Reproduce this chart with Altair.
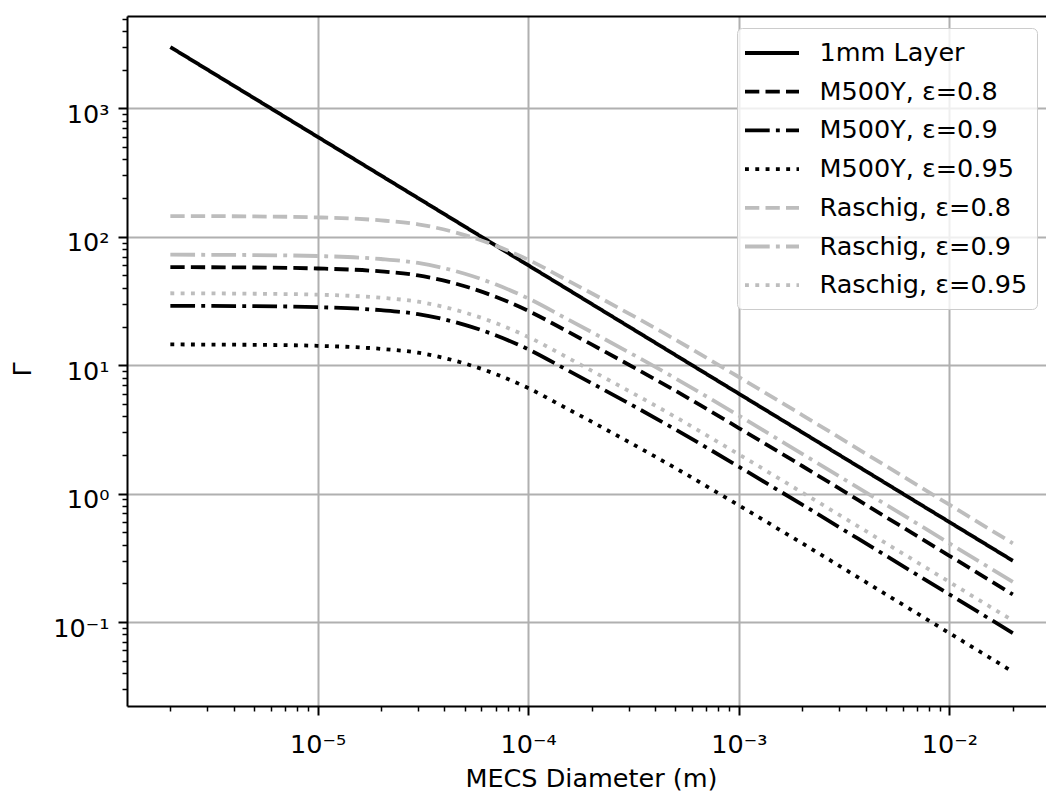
import altair as alt
import pandas as pd

# ---------------- data ----------------
diameter_m = [2e-6, 5e-6, 1e-5, 2e-5, 3e-5, 5e-5, 7e-5, 1e-4, 1.5e-4, 2e-4,
              5e-4, 1e-3, 2e-3, 5e-3, 1e-2, 2e-2]

layer_1mm    = [3000, 1200, 600, 300, 200, 120, 85.7, 60, 40, 30, 12, 6, 3, 1.2, 0.6, 0.3]
m500y_e080   = [58.0, 57.6, 56.6, 53.7, 50.0, 41.2, 34.1, 26.5, 18.7, 14.5, 6.32, 3.24, 1.64, 0.656, 0.328, 0.164]
m500y_e090   = [29.0, 28.8, 28.3, 26.8, 25.0, 20.6, 17.1, 13.3, 9.34, 7.25, 3.16, 1.62, 0.82, 0.328, 0.164, 0.082]
m500y_e095   = [14.5, 14.4, 14.15, 13.4, 12.5, 10.3, 8.53, 6.63, 4.67, 3.63, 1.58, 0.81, 0.41, 0.164, 0.082, 0.041]
raschig_e080 = [145, 144, 141.5, 134.1, 125, 103, 85.3, 66.3, 46.7, 36.3, 15.8, 8.09, 4.09, 1.64, 0.819, 0.41]
raschig_e090 = [72.5, 72.0, 70.8, 67.1, 62.5, 51.5, 42.6, 33.1, 23.3, 18.1, 7.9, 4.05, 2.04, 0.82, 0.41, 0.205]
raschig_e095 = [36.3, 36.0, 35.4, 33.5, 31.2, 25.7, 21.3, 16.6, 11.7, 9.06, 3.95, 2.02, 1.02, 0.41, 0.205, 0.1025]

series_names = ["1mm Layer", "M500Y, ε=0.8", "M500Y, ε=0.9", "M500Y, ε=0.95",
                "Raschig, ε=0.8", "Raschig, ε=0.9", "Raschig, ε=0.95"]
series_values = [layer_1mm, m500y_e080, m500y_e090, m500y_e095,
                 raschig_e080, raschig_e090, raschig_e095]
series_colors = ["#000000", "#000000", "#000000", "#000000",
                 "#bdbdbd", "#bdbdbd", "#bdbdbd"]
dash_solid = [1, 0]
dash_dashed = [14.3, 6.2]
dash_dashdot = [24.7, 6.2, 3.9, 6.2]
dash_dotted = [3.9, 6.4]
series_dashes = [dash_solid, dash_dashed, dash_dashdot, dash_dotted,
                 dash_dashed, dash_dashdot, dash_dotted]

x_major = [1e-5, 1e-4, 1e-3, 1e-2]
x_tick_labels = ["10⁻⁵", "10⁻⁴", "10⁻³", "10⁻²"]
y_major = [0.1, 1, 10, 100, 1000]
y_tick_labels = ["10⁻¹", "10⁰", "10¹", "10²", "10³"]

x_lo, x_hi = 1.245e-6, 0.02875
y_lo, y_hi = 0.02218, 5236
x_minor = [k * 10.0 ** e for e in range(-6, -1) for k in range(2, 10)
           if x_lo <= k * 10.0 ** e <= x_hi]
y_minor = [k * 10.0 ** e for e in range(-2, 4) for k in range(2, 10)
           if y_lo <= k * 10.0 ** e <= y_hi]

rows = []
for name, vals in zip(series_names, series_values):
    for i, (d, g) in enumerate(zip(diameter_m, vals)):
        rows.append({"d": d, "gamma": g, "series": name, "idx": i})
df = pd.DataFrame(rows)

# ---------------- styling ----------------
FONT = "DejaVu Sans"
FS = 25.5
x_scale = alt.Scale(type="log", domain=[x_lo, x_hi], nice=False)
y_scale = alt.Scale(type="log", domain=[y_lo, y_hi], nice=False)

x_label_expr = "[" + ",".join("'%s'" % s for s in x_tick_labels) + "][round(log(datum.value)/LN10)+5]"
y_label_expr = "[" + ",".join("'%s'" % s for s in y_tick_labels) + "][round(log(datum.value)/LN10)+1]"

x_axis_major = alt.Axis(
    orient="bottom", values=x_major, labelExpr=x_label_expr,
    grid=True, gridColor="#b0b0b0", gridWidth=2,
    domain=True, domainColor="black", domainWidth=2,
    ticks=True, tickColor="black", tickWidth=2, tickSize=9,
    labelFont=FONT, labelFontSize=FS, labelColor="black",
    labelPadding=37, labelBaseline="alphabetic", labelAlign="center",
    labelOverlap=False, labelFlush=False, labelBound=False,
    title="MECS Diameter (m)", titleFont=FONT, titleFontSize=FS,
    titleFontWeight="normal", titleColor="black",
    titleX=464, titleY=80, titleAlign="center", titleBaseline="alphabetic",
)
y_axis_major = alt.Axis(
    orient="left", values=y_major, labelExpr=y_label_expr,
    grid=True, gridColor="#b0b0b0", gridWidth=2,
    domain=True, domainColor="black", domainWidth=2,
    ticks=True, tickColor="black", tickWidth=2, tickSize=9,
    labelFont=FONT, labelFontSize=FS, labelColor="black",
    labelPadding=9, labelAlign="right", labelBaseline="alphabetic", labelOffset=14,
    labelOverlap=False, labelFlush=False, labelBound=False,
    title="Γ", titleFont=FONT, titleFontSize=FS, titleFontWeight="normal",
    titleColor="black", titleX=-105, titleY=353, titleAngle=270,
    titleAlign="center", titleBaseline="middle",
)

legend = alt.Legend(
    title=None, orient="none", legendX=610, legendY=12,
    direction="vertical",
    symbolType="M-2,0L2,0", symbolSize=729, symbolStrokeWidth=3.8,
    symbolOffset=10, labelOffset=32,
    labelFont=FONT, labelFontSize=FS, labelColor="black", labelLimit=600,
    rowPadding=9.7, padding=9.5,
    fillColor="rgba(255,255,255,0.8)", strokeColor="#cccccc",
    cornerRadius=5,
)

lines = alt.Chart(df).mark_line(strokeWidth=3.8, clip=True, interpolate="monotone").encode(
    x=alt.X("d:Q", scale=x_scale, axis=x_axis_major),
    y=alt.Y("gamma:Q", scale=y_scale, axis=y_axis_major),
    color=alt.Color("series:N", sort=series_names,
                    scale=alt.Scale(domain=series_names, range=series_colors),
                    legend=legend),
    strokeDash=alt.StrokeDash("series:N", sort=series_names,
                              scale=alt.Scale(domain=series_names, range=series_dashes),
                              legend=legend),
    order=alt.Order("idx:Q"),
)

minor = alt.Chart(df).mark_point(opacity=0).encode(
    x=alt.X("d:Q", scale=x_scale, axis=alt.Axis(
        orient="bottom", values=x_minor, labels=False, grid=False, domain=False,
        ticks=True, tickSize=5, tickWidth=1.5, tickColor="black", title=None)),
    y=alt.Y("gamma:Q", scale=y_scale, axis=alt.Axis(
        orient="left", values=y_minor, labels=False, grid=False, domain=False,
        ticks=True, tickSize=5, tickWidth=1.5, tickColor="black", title=None)),
)

top_spine = alt.Chart(df).mark_point(opacity=0).encode(
    x=alt.X("d:Q", scale=x_scale, axis=alt.Axis(
        orient="top", values=x_major, labels=False, grid=False, ticks=False,
        domain=True, domainColor="black", domainWidth=2, title=None)),
    y=alt.Y("gamma:Q", scale=y_scale, axis=None),
)

chart = (
    alt.layer(lines, minor, top_spine)
    .resolve_axis(x="independent", y="independent")
    .properties(
        width=919, height=690,
        padding={"left": 127, "top": 16, "right": 0, "bottom": 88},
        autosize=alt.AutoSizeParams(type="none"),
        background="white",
    )
    .configure(font=FONT)
    .configure_view(strokeWidth=0)
)

chart.save("out.html", embed_options={"renderer": "svg", "actions": False})
